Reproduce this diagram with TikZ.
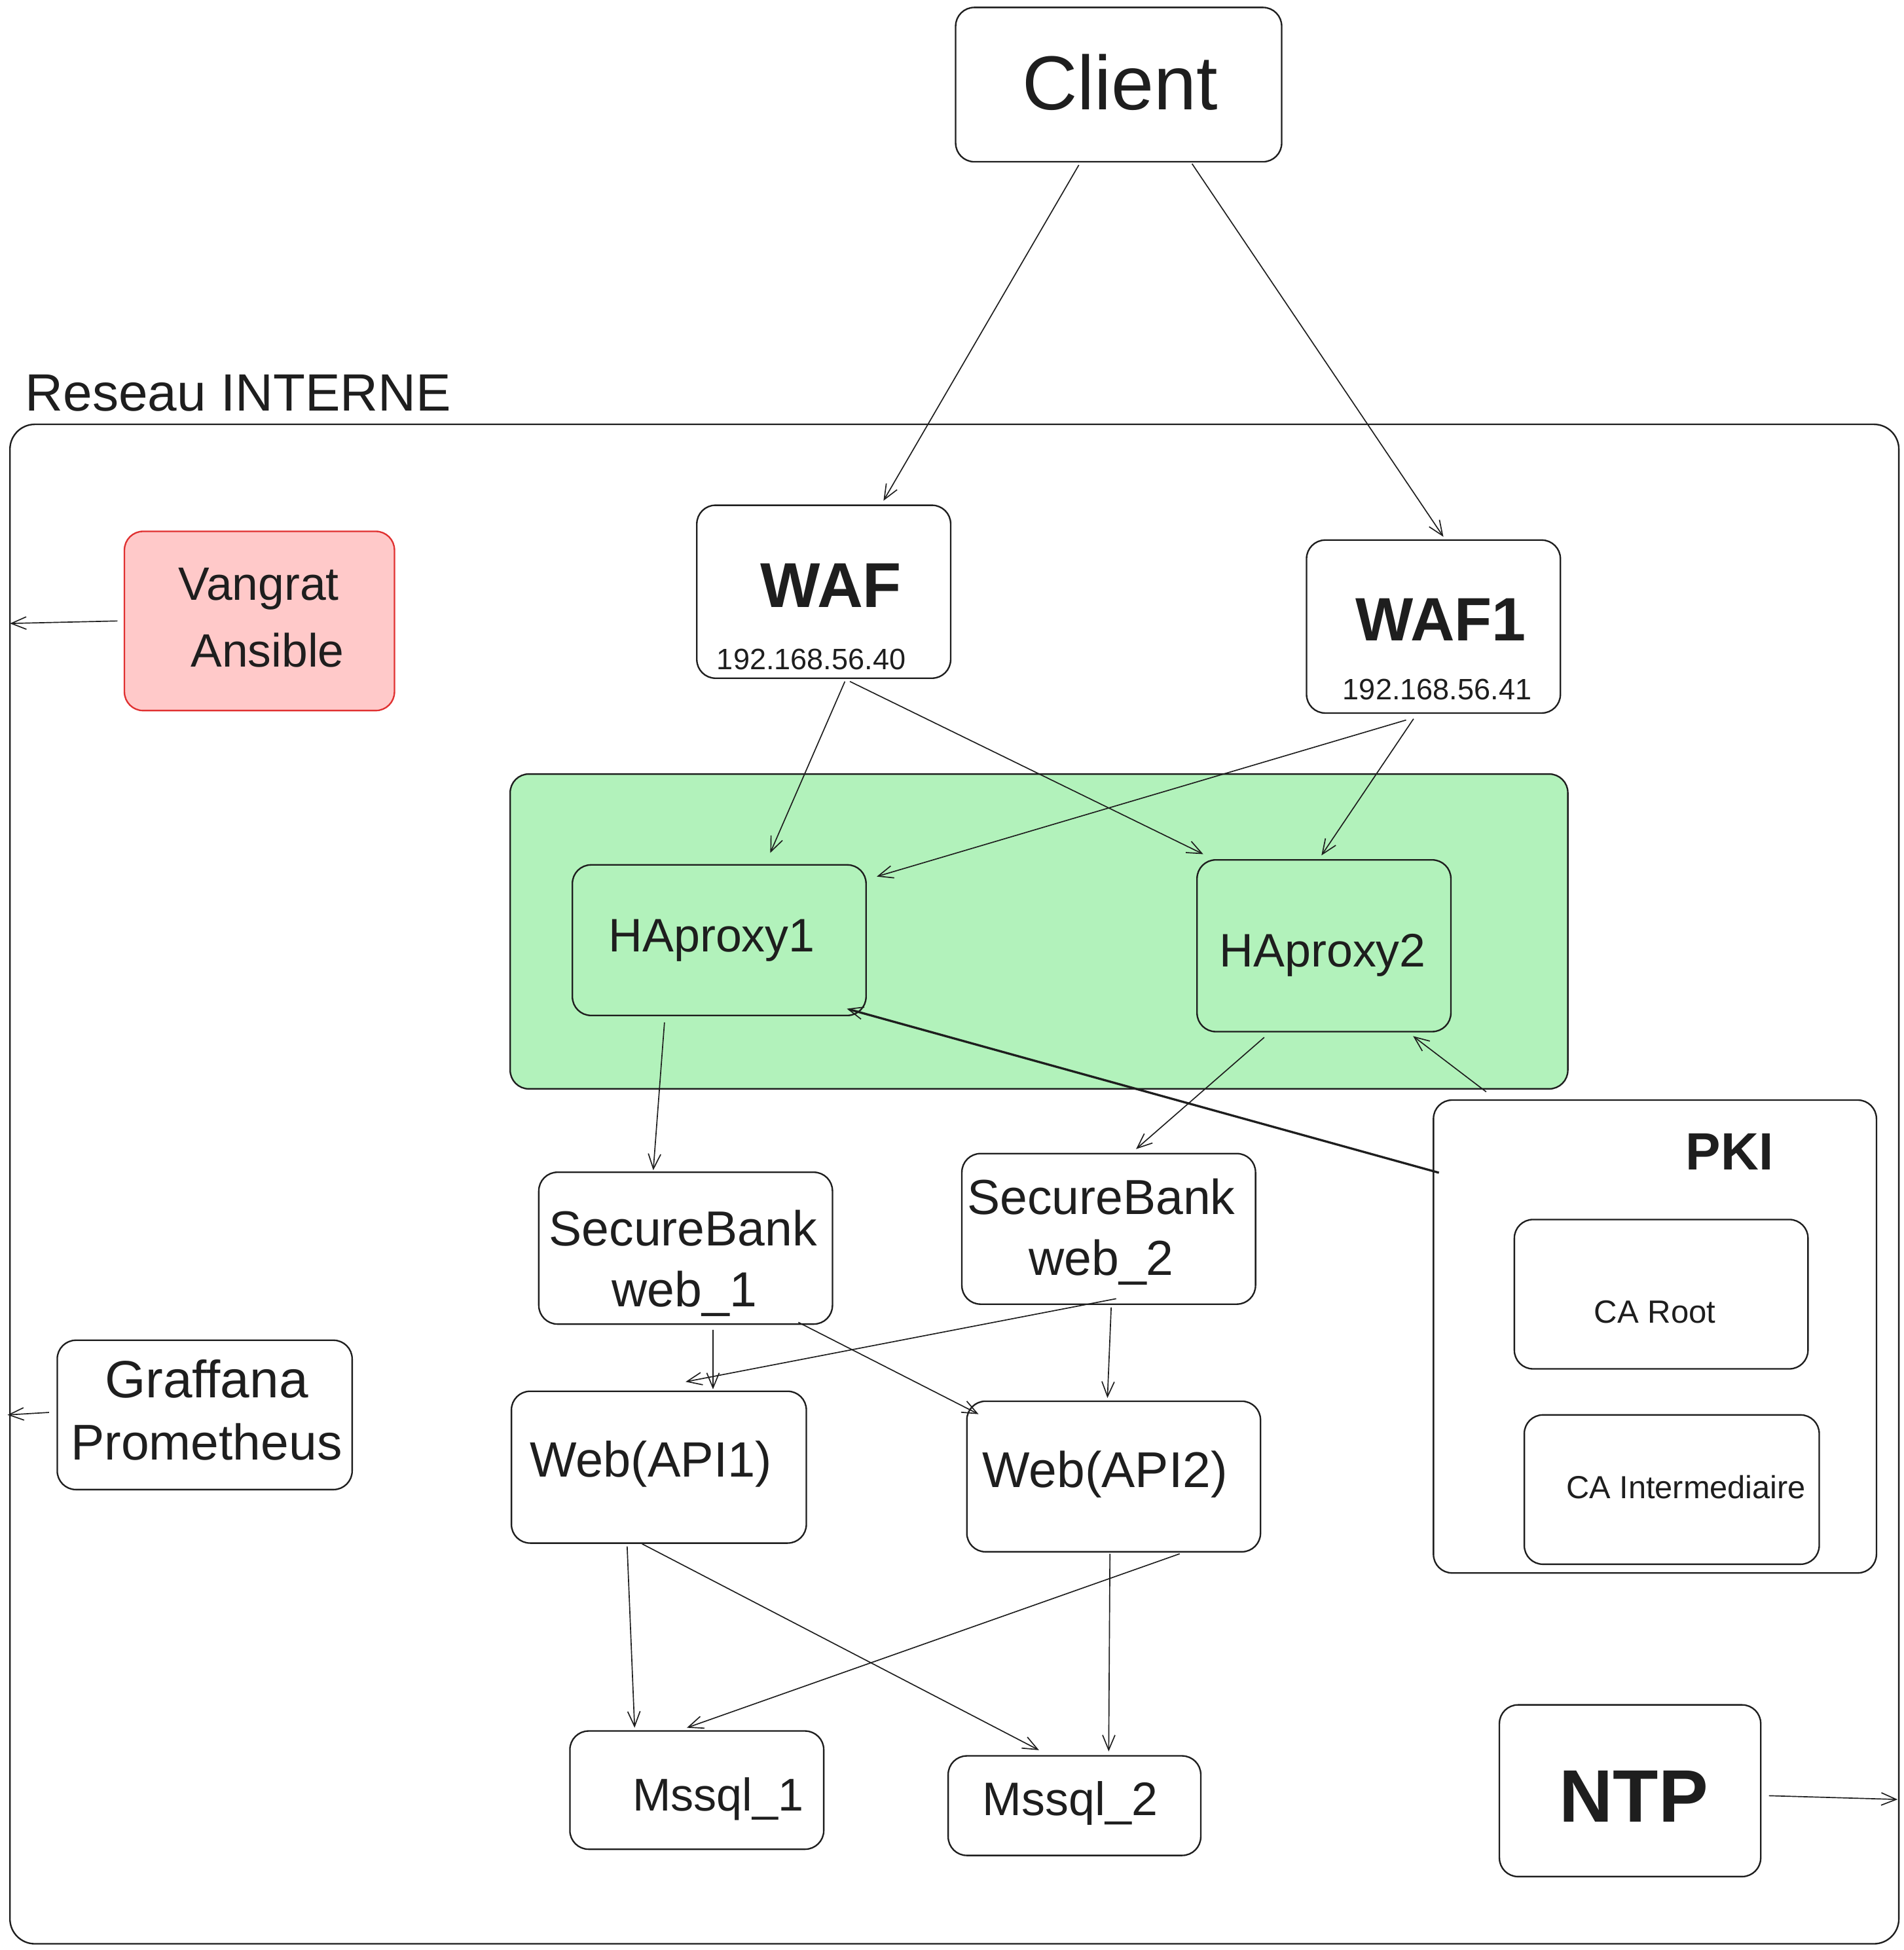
\documentclass[tikz,border=0pt]{standalone}
\usepackage{fontspec}
\setmainfont{Liberation Sans}
\usetikzlibrary{arrows.meta,fit,calc}
\definecolor{ink}{HTML}{1E1E1E}
\definecolor{greenfill}{HTML}{B2F2BB}
\definecolor{pinkfill}{HTML}{FFC9C9}
\definecolor{redline}{HTML}{E03131}
\newcommand{\myfs}[2]{\fontsize{#1pt}{#2pt}\selectfont}
\begin{document}
\begin{tikzpicture}[x=0.02cm,y=-0.02cm,
  box/.style={draw=ink, line width=0.7pt, rounded corners=0.3cm, inner sep=0pt},
  lbl/.style={text=ink, inner sep=0pt, anchor=base},
  conn/.style={draw=ink, line width=0.5pt, -{Straight Barb[length=0.24cm,width=0.2cm,line width=0.5pt]}},
]
\useasboundingbox[fill=white] (0,0) rectangle (1530,1567);

% containers
\node[box, rounded corners=0.4cm, fit={(8,341) (1526,1562)}] (outer) {};
\node[lbl, anchor=base west, font=\myfs{24}{29}] (treseau) at (20,330) {Reseau INTERNE};
\node[box, fill=greenfill, fit={(410,622) (1260,875)}] (green) {};
\node[box, fit={(1152,884) (1508,1264)}] (pki) {};

% boxes
\node[box, fit={(768,6) (1030,130)}] (client) {};
\node[box, fit={(560,406) (764,545)}] (waf) {};
\node[box, fit={(1050,434) (1254,573)}] (waf1) {};
\node[box, draw=redline, fill=pinkfill, fit={(100,427) (317,571)}] (vang) {};
\node[box, fit={(460,695) (696,816)}] (ha1) {};
\node[box, fit={(962,691) (1166,829)}] (ha2) {};
\node[box, fit={(1217,980) (1453,1100)}] (caroot) {};
\node[box, fit={(1225,1137) (1462,1257)}] (caint) {};
\node[box, fit={(433,942) (669,1064)}] (web1) {};
\node[box, fit={(773,927) (1009,1048)}] (web2) {};
\node[box, fit={(46,1077) (283,1197)}] (graf) {};
\node[box, fit={(411,1118) (648,1240)}] (api1) {};
\node[box, fit={(777,1126) (1013,1247)}] (api2) {};
\node[box, fit={(458,1391) (662,1486)}] (ms1) {};
\node[box, fit={(762,1411) (965,1491)}] (ms2) {};
\node[box, fit={(1205,1370) (1415,1508)}] (ntp) {};

% texts
\node[lbl, font=\myfs{35}{42}] (tclient) at (900,88) {Client};
\node[lbl, font=\bfseries\myfs{29}{35}] (twaf) at (668,488) {WAF};
\node[lbl, font=\myfs{13.5}{16}] (tip) at (652,538) {192.168.56.40};
\node[lbl, font=\bfseries\myfs{28}{34}] (twaf1) at (1158,515) {WAF1};
\node[lbl, font=\myfs{13.5}{16}] (tip1) at (1155,562) {192.168.56.41};
\node[lbl, font=\myfs{21.4}{26}] (tvang) at (208,482) {Vangrat};
\node[lbl, font=\myfs{21.4}{26}] (tans) at (215,536) {Ansible};
\node[lbl, font=\myfs{21.5}{26}] (tha1) at (572,765) {HAproxy1};
\node[lbl, font=\myfs{21.5}{26}] (tha2) at (1063,777) {HAproxy2};
\node[lbl, font=\bfseries\myfs{24}{29}] (tpki) at (1390,940) {PKI};
\node[lbl, font=\myfs{14.7}{18}] (tcaroot) at (1330,1063) {CA Root};
\node[lbl, font=\myfs{14.6}{18}] (tcaint) at (1355,1204) {CA Intermediaire};
\node[lbl, font=\myfs{22.5}{27}] (tsb1) at (549,1001) {SecureBank};
\node[lbl, font=\myfs{22.5}{27}] (tw1) at (550,1050) {web\_1};
\node[lbl, font=\myfs{22.5}{27}] (tsb2) at (885,976) {SecureBank};
\node[lbl, font=\myfs{22.5}{27}] (tw2) at (885,1025) {web\_2};
\node[lbl, font=\myfs{24}{29}] (tgraf) at (166,1123) {Graffana};
\node[lbl, font=\myfs{23}{28}] (tprom) at (166,1173) {Prometheus};
\node[lbl, font=\myfs{22.7}{27}] (tapi1) at (523,1187) {Web(API1)};
\node[lbl, font=\myfs{23}{28}] (tapi2) at (888,1195) {Web(API2)};
\node[lbl, font=\myfs{21}{25}] (tms1) at (577,1455) {Mssql\_1};
\node[lbl, font=\myfs{21.5}{26}] (tms2) at (860,1459) {Mssql\_2};
\node[lbl, font=\bfseries\myfs{34}{41}] (tntp) at (1313,1464) {NTP};

% free ends on the network border
\coordinate (vEnd) at (8,501);
\coordinate (gEnd) at (6,1137);
\coordinate (nEnd) at (1525,1446);

% connectors
\draw[conn] ([shift={(-32,2)}]client.south) -- ([shift={(48,-3)}]waf.north);
\draw[conn] ([shift={(59,1)}]client.south) -- ([shift={(8,-2)}]waf1.north);
\draw[conn] ([shift={(17,2)}]waf.south) -- ([shift={(41,-9)}]ha1.north);
\draw[conn] ([shift={(21,2)}]waf.south) -- ([shift={(-97,-4)}]ha2.north);
\draw[conn] ([shift={(-22,5)}]waf1.south) -- ([shift={(8,10)}]ha1.north east);
\draw[conn] ([shift={(-16,4)}]waf1.south) -- ([shift={(-2,-3)}]ha2.north);
\draw[conn] ([shift={(-44,5)}]ha1.south) -- ([shift={(-26,-1)}]web1.north);
\draw[conn] ([shift={(-48,4)}]ha2.south) -- ([shift={(22,-3)}]web2.north);
\draw[conn] ([shift={(43,-6)}]pki.north west) -- ([shift={(-31,3)}]ha2.south east);
\draw[conn, line width=1pt] ([shift={(5,59)}]pki.north west) -- ([shift={(-16,-6)}]ha1.south east);
\draw[conn] ([shift={(22,4)}]web1.south) -- ([shift={(43.5,-1)}]api1.north);
\draw[conn] ([shift={(-28,-2)}]web1.south east) -- ([shift={(10,11)}]api2.north west);
\draw[conn] ([shift={(6,-5)}]web2.south) -- ([shift={(21.5,-7)}]api1.north);
\draw[conn] ([shift={(2,2)}]web2.south) -- ([shift={(-5,-2)}]api2.north);
\draw[conn] ([shift={(-25.5,2)}]api1.south) -- ([shift={(-50,-2)}]ms1.north);
\draw[conn] ([shift={(-13.5,0)}]api1.south) -- ([shift={(-28.5,-4)}]ms2.north);
\draw[conn] ([shift={(53,1)}]api2.south) -- ([shift={(-8,-2)}]ms1.north);
\draw[conn] ([shift={(-3,1)}]api2.south) -- ([shift={(27.5,-3)}]ms2.north);
\draw[conn] ([shift={(-5,0)}]vang.west) -- (vEnd);
\draw[conn] ([shift={(-6,-2)}]graf.west) -- (gEnd);
\draw[conn] ([shift={(6,4)}]ntp.east) -- (nEnd);
\end{tikzpicture}
\end{document}
